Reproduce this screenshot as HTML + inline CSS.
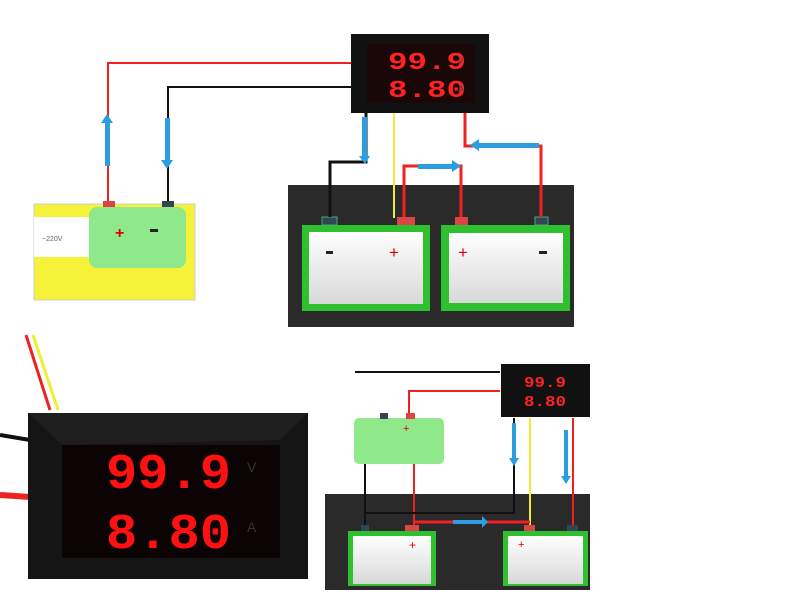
<!DOCTYPE html>
<html><head><style>body{margin:0;background:#fff}svg{display:block}</style></head><body>
<svg width="800" height="600" viewBox="0 0 800 600" xmlns="http://www.w3.org/2000/svg" font-family="Liberation Sans, sans-serif">
<defs>
<linearGradient id="bat" x1="0" y1="0" x2="0" y2="1"><stop offset="0" stop-color="#fff"/><stop offset="1" stop-color="#d8d8d8"/></linearGradient>
</defs>
<!-- TOP DIAGRAM -->
<rect x="34" y="204" width="161" height="96" fill="#f6f23a" stroke="#ccc"/>
<rect x="34" y="217" width="56" height="40" fill="#fff"/>
<text x="42" y="241" font-size="7" fill="#666">~220V</text>
<rect x="89" y="207" width="97" height="61" rx="8" fill="#8fe88a"/>
<text x="115" y="238" font-size="16" fill="#d00" font-weight="bold">+</text>
<rect x="150" y="229" width="8" height="3" fill="#222"/>
<rect x="103" y="201" width="12" height="6" fill="#d44"/>
<rect x="162" y="201" width="12" height="6" fill="#345"/>
<polyline points="108,201 108,63 352,63" fill="none" stroke="#e22" stroke-width="2"/>
<polyline points="168,201 168,87 352,87" fill="none" stroke="#111" stroke-width="2"/>
<rect x="105" y="122" width="5" height="44" fill="#2a9ee0"/><polygon points="101,123 107,114 113,123" fill="#2a9ee0"/>
<rect x="165" y="118" width="5" height="44" fill="#2a9ee0"/><polygon points="161,160 167,169 173,160" fill="#2a9ee0"/>

<rect x="288" y="185" width="286" height="142" fill="#2a2a2a"/>
<rect x="302" y="225" width="128" height="86" fill="#2fc02f"/><rect x="309" y="232" width="114" height="72" fill="url(#bat)"/>
<rect x="441" y="225" width="129" height="86" fill="#2fc02f"/><rect x="449" y="233" width="114" height="70" fill="url(#bat)"/>
<rect x="326" y="251" width="7" height="3" fill="#222"/><text x="389" y="258" font-size="17" fill="#d00">+</text>
<text x="458" y="258" font-size="17" fill="#d00">+</text><rect x="539" y="251" width="8" height="3" fill="#222"/>
<rect x="322" y="217" width="15" height="8" fill="#345" stroke="#4a7"/>
<rect x="397" y="217" width="18" height="8" fill="#d44"/>
<rect x="455" y="217" width="13" height="8" fill="#d44"/>
<rect x="535" y="217" width="13" height="8" fill="#345" stroke="#4a7"/>
<polyline points="366,113 366,162 330,162 330,217" fill="none" stroke="#111" stroke-width="3"/>
<line x1="394" y1="113" x2="394" y2="218" stroke="#ee3" stroke-width="2"/>
<polyline points="404,217 404,166 461,166 461,217" fill="none" stroke="#e22" stroke-width="3"/>
<polyline points="465,113 465,146 541,146 541,217" fill="none" stroke="#e22" stroke-width="3"/>
<rect x="362" y="117" width="5" height="42" fill="#2a9ee0"/><polygon points="359,156 365,164 370,156" fill="#2a9ee0"/>
<rect x="418" y="164" width="36" height="5" fill="#2a9ee0"/><polygon points="452,160 461,166 452,172" fill="#2a9ee0"/>
<rect x="477" y="143" width="62" height="5" fill="#2a9ee0"/><polygon points="479,139 470,145 479,151" fill="#2a9ee0"/>

<rect x="351" y="34" width="138" height="79" fill="#111"/>
<rect x="367" y="44" width="108" height="59" fill="#1a0808"/>
<text x="388" y="69" font-size="24" fill="#f22" font-family="Liberation Mono, monospace" font-weight="bold" textLength="78" lengthAdjust="spacingAndGlyphs">99.9</text>
<text x="388" y="97" font-size="24" fill="#f22" font-family="Liberation Mono, monospace" font-weight="bold" textLength="78" lengthAdjust="spacingAndGlyphs">8.80</text>
<text x="458" y="63" font-size="9" fill="#444">V</text><text x="458" y="92" font-size="9" fill="#444">A</text>

<!-- BOTTOM LEFT METER -->
<polyline points="26,335 50,410" stroke="#e22" stroke-width="3" fill="none"/>
<polyline points="33,335 58,410" stroke="#ee3" stroke-width="3" fill="none"/>
<polyline points="0,435 30,440" stroke="#111" stroke-width="4" fill="none"/>
<polyline points="0,495 30,497" stroke="#e22" stroke-width="6" fill="none"/>
<rect x="28" y="413" width="280" height="166" fill="#151515"/>
<polygon points="28,413 308,413 280,440 62,445" fill="#1e1e1e"/>
<rect x="62" y="445" width="218" height="113" fill="#0c0404"/>
<text x="106" y="488" font-size="50" fill="#f11" font-family="Liberation Mono, monospace" font-weight="bold" textLength="125" lengthAdjust="spacingAndGlyphs">99.9</text>
<text x="106" y="548" font-size="50" fill="#f11" font-family="Liberation Mono, monospace" font-weight="bold" textLength="125" lengthAdjust="spacingAndGlyphs">8.80</text>
<text x="247" y="472" font-size="14" fill="#333">V</text><text x="247" y="532" font-size="14" fill="#333">A</text>

<!-- BOTTOM RIGHT -->
<rect x="325" y="494" width="265" height="96" fill="#2a2a2a"/>
<line x1="355" y1="372" x2="500" y2="372" stroke="#111" stroke-width="2"/>
<polyline points="409,418 409,391 500,391" fill="none" stroke="#e22" stroke-width="2"/>
<rect x="354" y="418" width="90" height="46" rx="5" fill="#8fe88a"/>
<rect x="380" y="413" width="8" height="6" fill="#345"/><rect x="406" y="413" width="9" height="6" fill="#d44"/>
<text x="403" y="432" font-size="11" fill="#d00">+</text>
<polyline points="365,464 365,530" fill="none" stroke="#111" stroke-width="2"/>
<polyline points="414,464 414,530" fill="none" stroke="#e22" stroke-width="2"/>
<polyline points="514,418 514,513 366,513" fill="none" stroke="#111" stroke-width="2"/>
<line x1="530" y1="418" x2="530" y2="530" stroke="#ee3" stroke-width="2"/>
<line x1="573" y1="418" x2="573" y2="530" stroke="#e22" stroke-width="2"/>
<line x1="414" y1="522" x2="530" y2="522" stroke="#e22" stroke-width="3"/>
<rect x="453" y="520" width="30" height="4" fill="#2a9ee0"/><polygon points="482,516 488,522 482,528" fill="#2a9ee0"/>
<rect x="512" y="423" width="4" height="38" fill="#2a9ee0"/><polygon points="509,458 514,466 519,458" fill="#2a9ee0"/>
<rect x="564" y="430" width="4" height="48" fill="#2a9ee0"/><polygon points="561,476 566,484 571,476" fill="#2a9ee0"/>
<rect x="348" y="531" width="88" height="55" fill="#2fc02f"/><rect x="353" y="536" width="78" height="48" fill="url(#bat)"/>
<rect x="503" y="531" width="85" height="55" fill="#2fc02f"/><rect x="508" y="536" width="75" height="48" fill="url(#bat)"/>
<rect x="361" y="525" width="8" height="6" fill="#345"/><rect x="405" y="525" width="14" height="6" fill="#d44"/>
<rect x="524" y="525" width="11" height="6" fill="#d44"/><rect x="567" y="525" width="11" height="6" fill="#345"/>
<text x="409" y="549" font-size="12" fill="#d00">+</text><text x="518" y="548" font-size="11" fill="#d00">+</text>
<rect x="501" y="364" width="89" height="53" fill="#111"/>
<text x="524" y="387" font-size="15" fill="#f22" font-family="Liberation Mono, monospace" font-weight="bold" textLength="42" lengthAdjust="spacingAndGlyphs">99.9</text>
<text x="524" y="406" font-size="15" fill="#f22" font-family="Liberation Mono, monospace" font-weight="bold" textLength="42" lengthAdjust="spacingAndGlyphs">8.80</text>
</svg>
</body></html>
